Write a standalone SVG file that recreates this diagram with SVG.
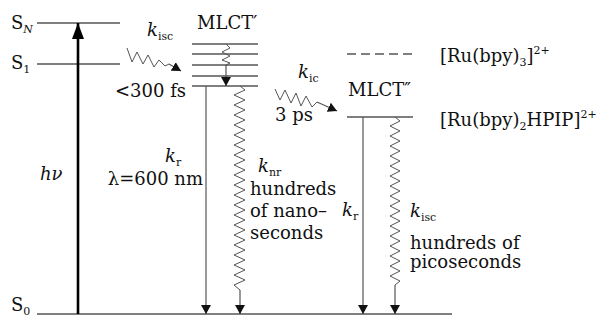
<svg xmlns="http://www.w3.org/2000/svg" width="609" height="321" viewBox="0 0 609 321">
<style>
text{font-family:"DejaVu Serif","Liberation Serif",serif;font-size:18px;fill:#111}
.it{font-style:italic}
.sub{font-size:11px}
.lvl{stroke:#555;stroke-width:1.3;fill:none}
.arr{stroke:#555;stroke-width:1.2;fill:none}
.zz{stroke:#555;stroke-width:1;fill:none;stroke-linejoin:miter}
</style>
<defs>
<marker id="ah" markerWidth="9" markerHeight="10" refX="9" refY="5" orient="auto" markerUnits="userSpaceOnUse">
<path d="M0,0 L9,5 L0,10 Z" fill="#111"/>
</marker>
<marker id="ahb" markerWidth="16" markerHeight="12" refX="16" refY="6" orient="auto" markerUnits="userSpaceOnUse">
<path d="M0,0 L16,6 L0,12 Z" fill="#000"/>
</marker>
</defs>
<rect width="609" height="321" fill="#fff"/>

<g id="SN">
<line class="lvl" x1="37" y1="23" x2="120" y2="23"/>
<text x="11" y="29">S<tspan class="sub it" dy="4">N</tspan></text>
</g>
<g id="S1">
<line class="lvl" x1="37" y1="64" x2="120" y2="64"/>
<text x="11" y="69">S<tspan class="sub" dy="4">1</tspan></text>
</g>
<g id="S0">
<line class="lvl" x1="37" y1="314" x2="452" y2="314"/>
<text x="11" y="311">S<tspan class="sub" dy="4">0</tspan></text>
</g>
<g id="MLCT1">
<line class="lvl" x1="192" y1="44" x2="258" y2="44"/>
<line class="lvl" x1="192" y1="54" x2="258" y2="54"/>
<line class="lvl" x1="192" y1="65" x2="258" y2="65"/>
<line class="lvl" x1="192" y1="76" x2="258" y2="76"/>
<line class="lvl" x1="192" y1="86" x2="258" y2="86"/>
<text x="197" y="29">MLCT′</text>
</g>
<g id="MLCT2">
<line class="lvl" x1="347" y1="117" x2="413" y2="117"/>
<text x="348" y="96">MLCT″</text>
<text x="440" y="126">[Ru(bpy)<tspan class="sub" dy="4">2</tspan><tspan dy="-4">HPIP]</tspan><tspan class="sub" dy="-8">2+</tspan></text>
</g>
<g id="Ru3">
<line class="lvl" x1="347" y1="54" x2="413" y2="54" stroke-dasharray="9,5"/>
<text x="440" y="62">[Ru(bpy)<tspan class="sub" dy="4">3</tspan><tspan dy="-4">]</tspan><tspan class="sub" dy="-8">2+</tspan></text>
</g>

<g id="connectors">
<line x1="78" y1="314" x2="78" y2="23" stroke="#000" stroke-width="2.6" marker-end="url(#ahb)"/>
<text class="it" x="40" y="180">hν</text>

<polyline class="zz" points="127,48 132,62 137,52 143,64 148,55 154,67 159,60 165,66 169,64" />
<line class="arr" x1="169" y1="64" x2="181" y2="71" marker-end="url(#ah)"/>
<text x="147" y="36"><tspan class="it">k</tspan><tspan class="sub" dy="4">isc</tspan></text>
<text x="115" y="97">&lt;300 fs</text>

<polyline class="zz" points="226,44 230,48 222,52 230,56 222,60 230,63 226,65 226,66"/>
<line class="arr" x1="226" y1="65" x2="226" y2="86" marker-end="url(#ah)"/>

<line class="arr" x1="206" y1="86" x2="206" y2="314" marker-end="url(#ah)"/>
<text x="165" y="162"><tspan class="it">k</tspan><tspan class="sub" dy="4">r</tspan></text>
<text x="203" y="185" text-anchor="end">λ=600 nm</text>

<polyline class="zz" points="240,86 245,90 234,95 245,100 234,105 245,110 234,115 245,120 234,125 245,130 234,135 245,140 234,145 245,150 234,155 245,160 234,165 245,170 234,175 245,180 234,185 245,190 234,195 245,200 234,205 245,210 234,215 245,220 234,225 245,230 234,235 245,240 234,245 245,250 234,255 245,260 234,265 245,270 234,275 245,280 234,285 240,290"/>
<line class="arr" x1="240" y1="290" x2="240" y2="314" marker-end="url(#ah)"/>
<text x="258" y="172"><tspan class="it">k</tspan><tspan class="sub" dy="4">nr</tspan></text>
<text x="250" y="195">hundreds</text>
<text x="250" y="217">of nano–</text>
<text x="250" y="239">seconds</text>

<polyline class="zz" points="275,89 280,100 285,90 291,103 296,93 301,106 306,96 312,107 317,102"/>
<line class="arr" x1="317" y1="102" x2="337" y2="111" marker-end="url(#ah)"/>
<text x="298" y="78"><tspan class="it">k</tspan><tspan class="sub" dy="4">ic</tspan></text>
<text x="275" y="121">3 ps</text>

<line class="arr" x1="363" y1="117" x2="363" y2="314" marker-end="url(#ah)"/>
<text x="342" y="216"><tspan class="it">k</tspan><tspan class="sub" dy="4">r</tspan></text>

<polyline class="zz" points="395,117 400,121 390,126 400,131 390,136 400,141 390,146 400,151 390,156 400,161 390,166 400,171 390,176 400,181 390,186 400,191 390,196 400,201 390,206 400,211 390,216 400,221 390,226 400,231 390,236 400,241 390,246 400,251 390,256 400,261 390,266 400,271 390,276 400,281 395,285"/>
<line class="arr" x1="395" y1="285" x2="395" y2="314" marker-end="url(#ah)"/>
<text x="410" y="217"><tspan class="it">k</tspan><tspan class="sub" dy="4">isc</tspan></text>
<text x="410" y="249">hundreds of</text>
<text x="410" y="268">picoseconds</text>
</g>
</svg>
